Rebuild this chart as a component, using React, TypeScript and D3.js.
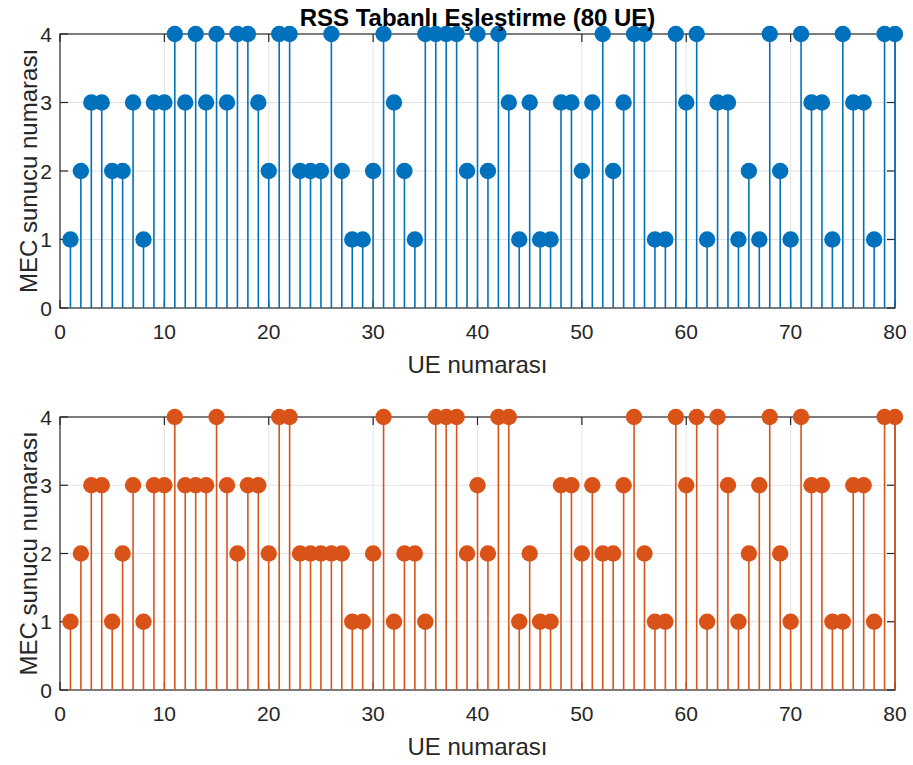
import * as d3 from 'd3';

// UE indices 1..80 and assigned MEC server per UE
const ueIds = d3.range(1, 81);

const rssTop = [
  1, 2, 3, 3, 2, 2, 3, 1, 3, 3,
  4, 3, 4, 3, 4, 3, 4, 4, 3, 2,
  4, 4, 2, 2, 2, 4, 2, 1, 1, 2,
  4, 3, 2, 1, 4, 4, 4, 4, 2, 4,
  2, 4, 3, 1, 3, 1, 1, 3, 3, 2,
  3, 4, 2, 3, 4, 4, 1, 1, 4, 3,
  4, 1, 3, 3, 1, 2, 1, 4, 2, 1,
  4, 3, 3, 1, 4, 3, 3, 1, 4, 4,
];

const rssBottom = [
  1, 2, 3, 3, 1, 2, 3, 1, 3, 3,
  4, 3, 3, 3, 4, 3, 2, 3, 3, 2,
  4, 4, 2, 2, 2, 2, 2, 1, 1, 2,
  4, 1, 2, 2, 1, 4, 4, 4, 2, 3,
  2, 4, 4, 1, 2, 1, 1, 3, 3, 2,
  3, 2, 2, 3, 4, 2, 1, 1, 4, 3,
  4, 1, 4, 3, 1, 2, 3, 4, 2, 1,
  4, 3, 3, 1, 1, 3, 3, 1, 4, 4,
];

const xTicks = [0, 10, 20, 30, 40, 50, 60, 70, 80];
const yTicks = [0, 1, 2, 3, 4];

const W = 913;
const H = 765;
const left = 60;
const right = 895;
const FONT = '"Liberation Sans", Arial, Helvetica, sans-serif';
const AX = '#262626';

type PanelProps = { values: number[]; color: string; top: number; bottom: number };

function StemPanel({ values, color, top, bottom }: PanelProps) {
  const x = d3.scaleLinear().domain([0, 80]).range([left, right]);
  const y = d3.scaleLinear().domain([0, 4]).range([bottom, top]);
  const tk = 8;
  return (
    <g>
      {/* grid */}
      {xTicks.slice(1, -1).map(t => (
        <line key={'gx' + t} x1={x(t)} x2={x(t)} y1={top} y2={bottom} stroke="#e3e3e3" strokeWidth={1} />
      ))}
      {yTicks.slice(1, -1).map(t => (
        <line key={'gy' + t} x1={left} x2={right} y1={y(t)} y2={y(t)} stroke="#e3e3e3" strokeWidth={1} />
      ))}
      {/* box + ticks */}
      <rect x={left} y={top} width={right - left} height={bottom - top} fill="none" stroke={AX} strokeWidth={1.2} />
      {xTicks.map(t => (
        <g key={'tx' + t}>
          <line x1={x(t)} x2={x(t)} y1={bottom} y2={bottom - tk} stroke={AX} strokeWidth={1.2} />
          <line x1={x(t)} x2={x(t)} y1={top} y2={top + tk} stroke={AX} strokeWidth={1.2} />
          <text x={x(t)} y={bottom + 31} textAnchor="middle" fontSize={21} fill={AX} fontFamily={FONT}>{t}</text>
        </g>
      ))}
      {yTicks.map(t => (
        <g key={'ty' + t}>
          <line x1={left} x2={left + tk} y1={y(t)} y2={y(t)} stroke={AX} strokeWidth={1.2} />
          <line x1={right} x2={right - tk} y1={y(t)} y2={y(t)} stroke={AX} strokeWidth={1.2} />
          <text x={left - 8} y={y(t) + 7.5} textAnchor="end" fontSize={21} fill={AX} fontFamily={FONT}>{t}</text>
        </g>
      ))}
      {/* stems */}
      {values.map((v, i) => (
        <line key={'s' + i} x1={x(ueIds[i])} x2={x(ueIds[i])} y1={y(0)} y2={y(v)} stroke={color} strokeWidth={1.6} />
      ))}
      {values.map((v, i) => (
        <circle key={'c' + i} cx={x(ueIds[i])} cy={y(v)} r={8.2} fill={color} />
      ))}
      {/* labels */}
      <text x={(left + right) / 2} y={bottom + 65} textAnchor="middle" fontSize={24} fill={AX} fontFamily={FONT}>UE numarası</text>
      <text transform={`translate(37,${(top + bottom) / 2}) rotate(-90)`} textAnchor="middle" fontSize={24} fill={AX} fontFamily={FONT}>MEC sunucu numarası</text>
    </g>
  );
}

export default function App() {
  return (
    <svg width={W} height={H} style={{ position: 'absolute', left: 0, top: 0, background: '#fff' }}>
      <rect width={W} height={H} fill="#fff" />
      <StemPanel values={rssTop} color="#0072BD" top={34} bottom={308} />
      <StemPanel values={rssBottom} color="#D95319" top={417} bottom={690} />
      <text x={(left + right) / 2} y={26} textAnchor="middle" fontSize={24} fontWeight="bold" fill="#000" fontFamily={FONT}>
        RSS Tabanlı Eşleştirme (80 UE)
      </text>
    </svg>
  );
}
